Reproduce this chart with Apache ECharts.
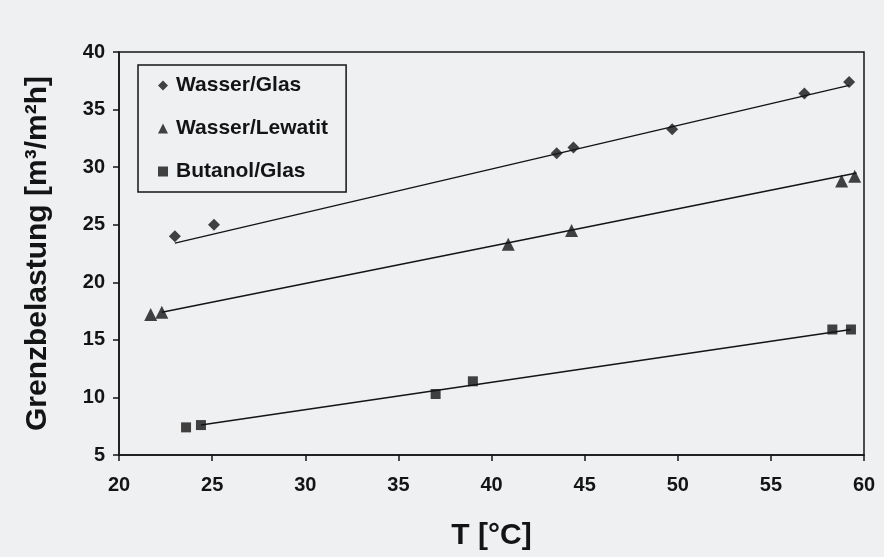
<!DOCTYPE html>
<html>
<head>
<meta charset="utf-8">
<script src="https://cdn.jsdelivr.net/npm/echarts@6/dist/echarts.min.js"></script>
<style>
html,body{margin:0;padding:0;background:#eef0f2;}
#chart{width:884px;height:557px;}
</style>
</head>
<body>
<div id="chart"></div>
<script>
// Measured data (T in °C, Grenzbelastung in m³/m²h)
const tGlas = [23.0, 25.1, 43.5, 44.4, 49.7, 56.8, 59.2];
const gGlas = [24.0, 25.0, 31.2, 31.7, 33.3, 36.4, 37.4];
const tLew  = [21.7, 22.3, 40.9, 44.3, 58.8, 59.5];
const gLew  = [17.2, 17.4, 23.3, 24.5, 28.8, 29.2];
const tBut  = [23.6, 24.4, 37.0, 39.0, 58.3, 59.3];
const gBut  = [7.4, 7.6, 10.3, 11.4, 15.9, 15.9];
// Regression line end points
const fitGlasT = [23.0, 59.2], fitGlasG = [23.4, 37.1];
const fitLewT  = [22.3, 59.6], fitLewG  = [17.4, 29.5];
const fitButT  = [24.4, 59.3], fitButG  = [7.6, 15.9];
const seriesNames = ['Wasser/Glas', 'Wasser/Lewatit', 'Butanol/Glas'];
const xTicks = [20, 25, 30, 35, 40, 45, 50, 55, 60];
const yTicks = [5, 10, 15, 20, 25, 30, 35, 40];

const pairs = (xs, ys) => xs.map((x, i) => [x, ys[i]]);
const ink = '#141414';
const font = 'Liberation Sans, Arial, sans-serif';

const chart = echarts.init(document.getElementById('chart'));
chart.setOption({
  backgroundColor: '#eef0f2',
  animation: false,
  grid: { left: 119, top: 52, width: 745, height: 403, show: true, borderColor: ink, borderWidth: 1.5, backgroundColor: 'transparent' },
  legend: {
    data: seriesNames.map(n => ({ name: n })),
    orient: 'vertical', left: 138, top: 65,
    itemWidth: 10, itemHeight: 10, itemGap: 22,
    padding: [10, 18, 10, 20],
    borderColor: ink, borderWidth: 1.5, backgroundColor: 'transparent',
    textStyle: { fontFamily: font, fontWeight: 'bold', fontSize: 21, color: ink, padding: [0, 0, 0, 3] }
  },
  xAxis: {
    type: 'value', min: xTicks[0], max: xTicks[xTicks.length - 1], interval: 5,
    name: 'T [°C]', nameLocation: 'middle', nameGap: 66,
    nameTextStyle: { fontFamily: font, fontWeight: 'bold', fontSize: 30, color: ink },
    axisLine: { lineStyle: { color: ink, width: 1.5 } },
    axisTick: { inside: false, length: 6, lineStyle: { color: ink, width: 1.5 } },
    axisLabel: { margin: 20, fontFamily: font, fontWeight: 'bold', fontSize: 20, color: ink },
    splitLine: { show: false }
  },
  yAxis: {
    type: 'value', min: yTicks[0], max: yTicks[yTicks.length - 1], interval: 5,
    name: 'Grenzbelastung [m³/m²h]', nameLocation: 'middle', nameGap: 66, nameRotate: 90,
    nameTextStyle: { fontFamily: font, fontWeight: 'bold', fontSize: 30, color: ink },
    axisLine: { lineStyle: { color: ink, width: 1.5 } },
    axisTick: { inside: false, length: 6, lineStyle: { color: ink, width: 1.5 } },
    axisLabel: { margin: 14, fontFamily: font, fontWeight: 'bold', fontSize: 20, color: ink },
    splitLine: { show: false }
  },
  series: [
    { name: seriesNames[0], type: 'scatter', symbol: 'diamond', symbolSize: 12, itemStyle: { color: ink }, data: pairs(tGlas, gGlas), z: 3 },
    { name: seriesNames[1], type: 'scatter', symbol: 'triangle', symbolSize: 13, itemStyle: { color: ink }, data: pairs(tLew, gLew), z: 3 },
    { name: seriesNames[2], type: 'scatter', symbol: 'rect', symbolSize: 10, itemStyle: { color: ink }, data: pairs(tBut, gBut), z: 3 },
    { type: 'line', symbol: 'none', lineStyle: { color: ink, width: 1.5 }, data: pairs(fitGlasT, fitGlasG), z: 2 },
    { type: 'line', symbol: 'none', lineStyle: { color: ink, width: 1.5 }, data: pairs(fitLewT, fitLewG), z: 2 },
    { type: 'line', symbol: 'none', lineStyle: { color: ink, width: 1.5 }, data: pairs(fitButT, fitButG), z: 2 }
  ]
});
</script>
</body>
</html>
